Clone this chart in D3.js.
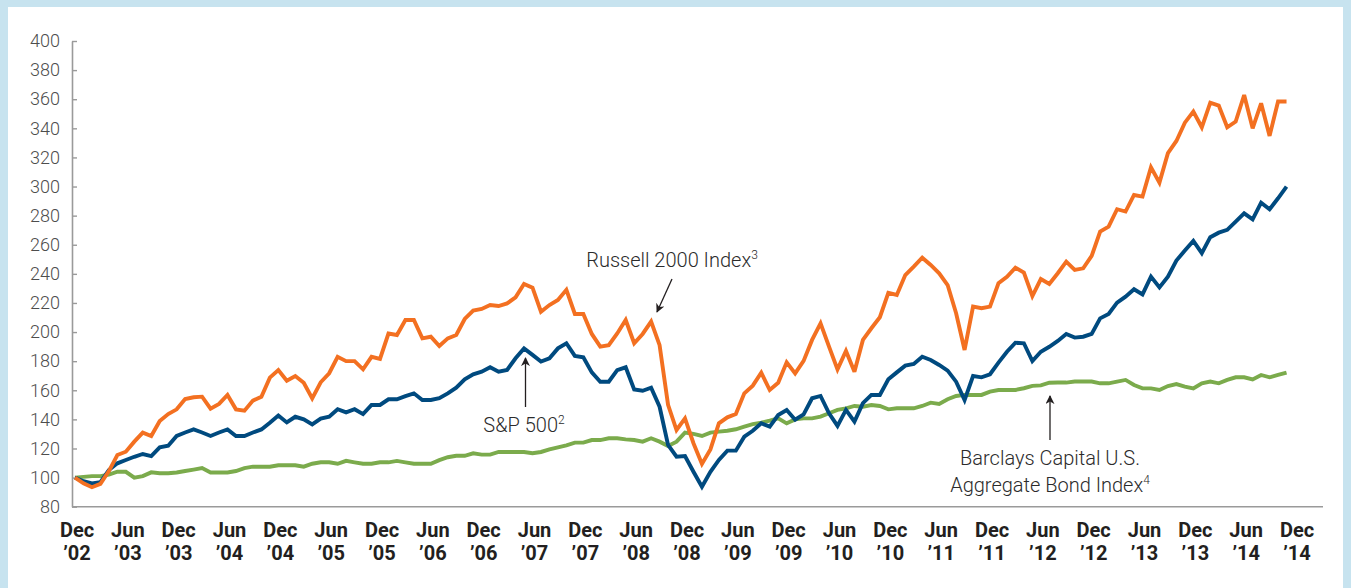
<!DOCTYPE html>
<html>
<head>
<meta charset="utf-8">
<script src="https://cdn.jsdelivr.net/npm/d3@7"></script>
<style>
  html, body { margin: 0; padding: 0; background: #c7e3ef; }
  #chart { position: absolute; left: 8px; top: 7px; width: 1335px; height: 581px; background: #fff; }
  svg { position: absolute; left: -8px; top: -7px; }
</style>
</head>
<body>
<div id="chart"></div>
<script>
// ===========================
// Growth of $100, Dec '02 – Dec '14 (monthly index values)
// ===========================

const yTicks = [80, 100, 120, 140, 160, 180, 200, 220, 240, 260, 280, 300, 320, 340, 360, 380, 400];
const xMonths = ['Dec', 'Jun'];
const xYears = ['02', '03', '03', '04', '04', '05', '05', '06', '06', '07', '07', '08', '08',
                '09', '09', '10', '10', '11', '11', '12', '12', '13', '13', '14', '14'];

// Russell 2000 Index
const russell = [
  100, 96.1, 93.4, 95.7, 104.5, 115.5, 117.8, 124.7, 130.9, 128.6, 138.9, 143.7, 146.9, 154.0, 155.2, 155.6,
  147.4, 150.6, 156.8, 146.9, 146.0, 152.9, 155.6, 168.7, 173.9, 166.6, 169.8, 165.2, 154.4, 165.5,
  171.7, 183, 180, 180, 174.4, 183, 181.5, 199, 198, 208.3, 208.3, 195.7, 196.8, 190.4, 195.7, 198,
  209, 214.7, 215.9, 218.6, 217.9, 219.7, 223.9, 233, 230.5, 214, 218.6, 222,
  229, 212.4, 212.4, 198.7, 190, 191, 199, 208.3, 192.3, 198.7, 207.2, 191, 150, 132.7, 140.7, 123.6,
  109.4, 119.4, 137.3, 141.4, 143.7, 157.9, 163.2, 172.1, 160.2, 165.2, 179.2, 171.6, 180.2,
  194.6, 206, 190, 174.4, 187, 172.8, 194.6, 202.6, 210.2, 227, 225.5, 239.2, 245, 251.1, 246.1,
  240.4, 232.3, 212.9, 187.7, 217.5, 216.4, 217.5, 233.5, 238, 244.2, 240.8, 224.7, 236.4, 233,
  240.4, 248.4, 242.7, 243.8, 252.3, 269, 272.5, 284.4, 282.8, 294.2, 293.1, 313.2, 302.7, 322.9,
  331.3, 343.9, 351.5, 340.7, 357.6, 355.6, 340.7, 344.6, 362.9, 340, 357.2, 334.8, 358.4, 358.4
];

// S&P 500
const sp500 = [
  100, 97.5, 96, 96.9, 105.2, 109.8, 112.1, 114.3, 116.2, 114.8, 120.8, 121.9, 128.6, 131, 133.1, 131,
  128.6, 131, 133.1, 128.6, 128.6, 131, 133.1, 137.7, 142.7, 137.9, 141.8, 140, 136.5, 140.5,
  141.9, 147, 144.8, 147, 143.6, 149.9, 149.9, 153.8, 153.8, 156, 157.9, 153.3, 153.3, 154.5, 157.9,
  161.8, 167.5, 171, 172.8, 175.8, 172.8, 174, 182, 188.8, 184.3, 179.7, 182, 188.8,
  192.3, 183.6, 182.6, 172.3, 165.9, 165.9, 173.9, 175.8, 160.6, 159.7, 161.8, 148.7, 122.4, 114.4,
  114.8, 104, 93.7, 104, 112.1, 118.5, 118.5, 128.1, 132.2, 137.3, 135, 143, 146.4, 139.8, 143.5,
  154.5, 156.1, 144.2, 135.5, 146.5, 138.5, 151.1, 156.8, 156.8, 167.5, 172.3, 176.9, 178.1, 183.1,
  180.8, 177.4, 173.5, 165.9, 153.3, 169.8, 168.9, 171, 179, 186.5, 192.7, 192.3, 180.1, 186.5, 189.9,
  193.9, 198.7, 196.2, 196.8, 198.7, 209.4, 212.4, 220.2, 224.3, 229.4, 225.9, 238.1, 230.7, 238.1,
  249.1, 256, 262.6, 254.2, 265.2, 268.3, 270.2, 275.9, 281.6, 277.5, 288.9, 284.4, 291.9, 299.9
];

// Barclays Capital U.S. Aggregate Bond Index
const barclays = [
  100, 100.5, 101, 101, 102, 104, 104, 100, 101, 103.6, 103, 103, 103.5, 104.5, 105.5, 106.5,
  103.5, 103.5, 103.5, 104.5, 106.5, 107.5, 107.5, 107.5, 108.5, 108.5, 108.5, 107.5, 109.5, 110.5,
  110.5, 109.5, 111.5, 110.5, 109.5, 109.5, 110.5, 110.5, 111.5, 110.5, 109.5, 109.5, 109.5, 112,
  114, 115, 115, 116.7, 115.8, 115.8, 117.6, 117.6, 117.6, 117.6, 116.7, 117.6, 119.4, 120.8,
  122.2, 124, 124, 125.8, 125.8, 127, 127, 126.3, 125.8, 124.7, 127, 124.7, 121.7, 124.7, 130.9,
  130, 128.6, 130.9, 131.6, 132.2, 133.2, 135, 136.8, 137.7, 139.1, 140.7, 137.3, 140, 140.7,
  140.7, 141.9, 144.2, 146.5, 147.6, 149.2, 148.7, 149.9, 149.2, 146.9, 147.6, 147.6, 147.6, 149.2,
  151.5, 150.6, 153.8, 156.1, 156.8, 156.8, 156.8, 159.1, 160.2, 160.2, 160.2, 161.4, 163, 163.4, 165.2,
  165.3, 165.3, 166, 166, 166, 164.8, 164.8, 166, 167.1, 163.6, 161.3, 161.3, 160.2, 162.9,
  164.3, 162.5, 161.3, 164.8, 166, 164.8, 167.1, 168.9, 168.9, 167.5, 170.5, 168.9, 170.5, 172.1
];

const seriesColors = ['#7bab4c', '#004a7f', '#f37021'];

const W = 1351, H = 588;
const labelFont = '"Liberation Sans Narrow", "Roboto", sans-serif';

const svg = d3.select('#chart').append('svg')
    .attr('width', W)
    .attr('height', H);

// ── Scales ────────────────────────────────────────────────────────────────
const xScale = d3.scaleLinear().domain([0, 144]).range([75, 1295]);
const yScale = d3.scaleLinear().domain([80, 400]).range([506.7, 41]);

// ── Y axis (ticks point inward) ───────────────────────────────────────────
const yAxis = svg.append('g')
    .attr('transform', 'translate(72,0)')
    .call(d3.axisLeft(yScale).tickValues(yTicks).tickSize(-5).tickPadding(12).tickSizeOuter(0));
yAxis.select('.domain').attr('stroke', '#9a9a9a').attr('stroke-width', 1.6);
yAxis.selectAll('.tick line').attr('stroke', '#9a9a9a').attr('stroke-width', 1.4);
yAxis.selectAll('.tick text')
    .style('font-family', labelFont)
    .style('font-size', '18px')
    .style('font-weight', '300')
    .style('fill', '#4d4d4d');

// ── X axis ────────────────────────────────────────────────────────────────
svg.append('line')
    .attr('x1', 72).attr('x2', 1323)
    .attr('y1', yScale(80)).attr('y2', yScale(80))
    .attr('stroke', '#9a9a9a')
    .attr('stroke-width', 1.6);

const xAxis = svg.append('g')
    .attr('transform', `translate(1.5,${yScale(80)})`)
    .call(d3.axisBottom(xScale).tickValues(xYears.map((_, i) => i * 6)).tickSize(0).tickFormat(''));
xAxis.select('.domain').remove();
xAxis.selectAll('.tick text')
    .style('font-family', labelFont)
    .style('font-size', '20px')
    .style('font-weight', 'bold')
    .style('fill', '#231f20')
    .attr('y', 0)
    .attr('dy', null)
    .each(function (d, i) {
        const t = d3.select(this);
        t.append('tspan').attr('x', 0).attr('y', 30).text(xMonths[i % 2]);
        t.append('tspan').attr('x', 0).attr('y', 53).text('\u2019' + xYears[i]);
    });

// ── Lines ─────────────────────────────────────────────────────────────────
const line = d3.line()
    .x((d, i) => xScale(i))
    .y(d => yScale(d));

[barclays, sp500, russell].forEach((data, k) => {
    svg.append('path')
        .datum(data)
        .attr('fill', 'none')
        .attr('stroke', seriesColors[k])
        .attr('stroke-width', 3.9)
        .attr('stroke-linejoin', 'miter')
        .attr('stroke-miterlimit', 3)
        .attr('d', line);
});

// ── Annotations ───────────────────────────────────────────────────────────
svg.append('defs').append('marker')
    .attr('id', 'arrow')
    .attr('viewBox', '0 0 10 10')
    .attr('refX', 9).attr('refY', 5)
    .attr('markerWidth', 9).attr('markerHeight', 9)
    .attr('markerUnits', 'userSpaceOnUse')
    .attr('orient', 'auto')
    .append('path')
    .attr('d', 'M0,0 L10,5 L0,10 L3,5 Z')
    .attr('fill', '#231f20');

function arrow(x1, y1, x2, y2) {
    svg.append('line')
        .attr('x1', x1).attr('y1', y1)
        .attr('x2', x2).attr('y2', y2)
        .attr('stroke', '#231f20')
        .attr('stroke-width', 1.3)
        .attr('marker-end', 'url(#arrow)');
}

function label(x, y, text, sup) {
    const t = svg.append('text')
        .attr('x', x).attr('y', y)
        .attr('text-anchor', 'middle')
        .style('font-family', labelFont)
        .style('font-size', '20px')
        .style('font-weight', '300')
        .style('fill', '#2b2b2b');
    t.append('tspan').text(text);
    if (sup) t.append('tspan').attr('dy', -8).style('font-size', '12px').text(sup);
    return t;
}

label(672, 267, 'Russell 2000 Index', '3');
arrow(672, 279, 657, 312);

label(524, 432, 'S&P 500', '2');
arrow(525.5, 407, 525.5, 358);

label(1050, 465, 'Barclays Capital U.S.');
label(1050, 492, 'Aggregate Bond Index', '4');
arrow(1050, 440, 1050, 396);
</script>
</body>
</html>
